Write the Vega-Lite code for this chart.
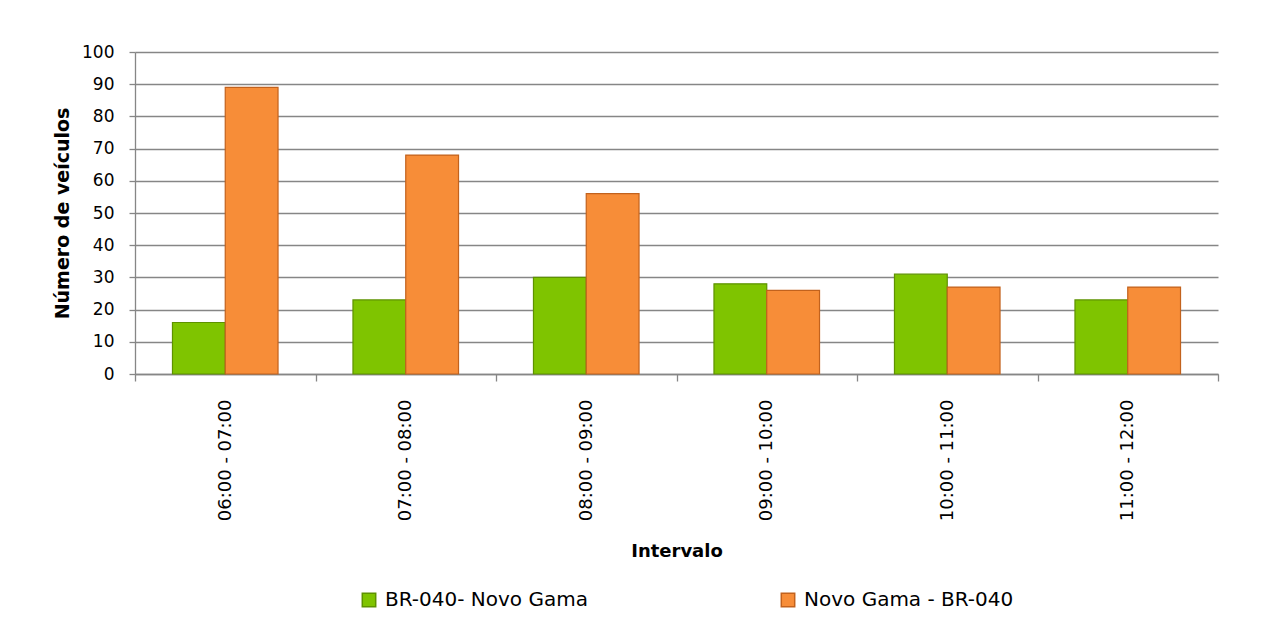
{
  "$schema": "https://vega.github.io/schema/vega-lite/v6.json",
  "width": 1083,
  "height": 322,
  "autosize": {"type": "none"},
  "padding": {"left": 135, "top": 52, "right": 60, "bottom": 254},
  "background": "white",
  "config": {"font": "DejaVu Sans", "view": {"stroke": null}},
  "data": {
    "values": [
      {"intervalo": "06:00 - 07:00", "serie": "BR-040- Novo Gama", "valor": 16},
      {"intervalo": "06:00 - 07:00", "serie": "Novo Gama - BR-040", "valor": 89},
      {"intervalo": "07:00 - 08:00", "serie": "BR-040- Novo Gama", "valor": 23},
      {"intervalo": "07:00 - 08:00", "serie": "Novo Gama - BR-040", "valor": 68},
      {"intervalo": "08:00 - 09:00", "serie": "BR-040- Novo Gama", "valor": 30},
      {"intervalo": "08:00 - 09:00", "serie": "Novo Gama - BR-040", "valor": 56},
      {"intervalo": "09:00 - 10:00", "serie": "BR-040- Novo Gama", "valor": 28},
      {"intervalo": "09:00 - 10:00", "serie": "Novo Gama - BR-040", "valor": 26},
      {"intervalo": "10:00 - 11:00", "serie": "BR-040- Novo Gama", "valor": 31},
      {"intervalo": "10:00 - 11:00", "serie": "Novo Gama - BR-040", "valor": 27},
      {"intervalo": "11:00 - 12:00", "serie": "BR-040- Novo Gama", "valor": 23},
      {"intervalo": "11:00 - 12:00", "serie": "Novo Gama - BR-040", "valor": 27}
    ]
  },
  "mark": {"type": "bar", "strokeWidth": 1.2},
  "encoding": {
    "x": {
      "field": "intervalo", "type": "nominal", "sort": null,
      "scale": {"paddingInner": 0, "paddingOuter": 0},
      "axis": {
        "title": "Intervalo", "labelAngle": -90, "tickBand": "extent",
        "tickSize": 7, "labelPadding": 18, "labelFontSize": 18, "labelColor": "black",
        "titleFontSize": 18, "titleFontWeight": "bold", "titleColor": "black", "titlePadding": 22,
        "domainColor": "#868686", "tickColor": "#868686", "domainWidth": 1.3, "tickWidth": 1.3, "grid": false
      }
    },
    "xOffset": {"field": "serie", "sort": null, "scale": {"paddingInner": 0, "paddingOuter": 0.71}},
    "y": {
      "field": "valor", "type": "quantitative",
      "scale": {"domain": [0, 100]},
      "axis": {
        "title": "Número de veículos", "values": [0, 10, 20, 30, 40, 50, 60, 70, 80, 90, 100],
        "grid": true, "gridColor": "#868686", "gridWidth": 1.3,
        "tickSize": 6, "labelPadding": 15, "labelFontSize": 17, "labelColor": "black",
        "domainColor": "#868686", "tickColor": "#868686", "domainWidth": 1.3, "tickWidth": 1.3,
        "titleFontSize": 19, "titleFontWeight": "bold", "titleColor": "black", "titlePadding": 9
      }
    },
    "color": {
      "field": "serie", "type": "nominal", "sort": null,
      "scale": {"range": ["#7fc400", "#f78d38"]},
      "legend": {
        "title": null, "orient": "none", "legendX": 224, "legendY": 538, "direction": "horizontal",
        "symbolType": "square", "symbolSize": 180, "labelFontSize": 20, "labelColor": "black",
        "labelLimit": 400, "columnPadding": 190, "labelOffset": 6
      }
    },
    "stroke": {
      "field": "serie", "type": "nominal", "sort": null,
      "scale": {"range": ["#5e9200", "#c2621d"]},
      "legend": null
    }
  }
}
